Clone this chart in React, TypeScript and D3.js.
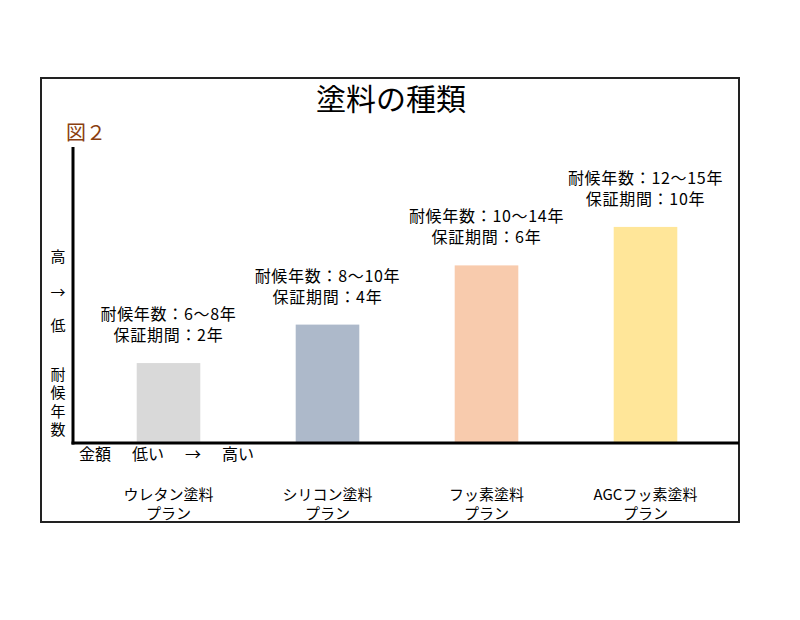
import React from "react";
import * as d3 from "d3";

const categoriesLine1 = ["ウレタン塗料", "シリコン塗料", "フッ素塗料", "AGCフッ素塗料"];
const categoriesLine2 = ["プラン", "プラン", "プラン", "プラン"];
const barValues = [27, 40, 60, 73];
const barColors = ["#d9d9d9", "#adb9ca", "#f8cbad", "#ffe699"];
const durabilityLabels = ["耐候年数：6〜8年", "耐候年数：8〜10年", "耐候年数：10〜14年", "耐候年数：12〜15年"];
const warrantyLabels = ["保証期間：2年", "保証期間：4年", "保証期間：6年", "保証期間：10年"];
const yAxisChars = ["高", "→", "低"];
const yAxisTitleChars = ["耐", "候", "年", "数"];
const xAxisWords = ["金額", "低い", "→", "高い"];
const title = "塗料の種類";
const figLabel = "図２";

const W = 800;
const H = 620;
const FONT = "'Noto Sans CJK JP', 'Noto Sans', sans-serif";

export default function App() {
  const box = { x0: 41, y0: 78, x1: 739, y1: 522 };
  const axisX = 73;
  const baseY = 443;
  const topY = 147;

  const x = d3
    .scaleBand<string>()
    .domain(categoriesLine1)
    .range([89, 725])
    .paddingInner(0.6)
    .paddingOuter(0.3);
  const y = d3.scaleLinear().domain([0, 100]).range([baseY, topY]);

  const xWordPos = [95, 148, 193, 238];

  return (
    <svg
      width={W}
      height={H}
      style={{ position: "absolute", left: 0, top: 0, background: "#fff" }}
      fontFamily={FONT}
    >
      <rect x={0} y={0} width={W} height={H} fill="#fff" />
      <rect
        x={box.x0}
        y={box.y0}
        width={box.x1 - box.x0}
        height={box.y1 - box.y0}
        fill="#fff"
        stroke="#222"
        strokeWidth={2}
      />
      <text x={391} y={97} textAnchor="middle" dominantBaseline="central" fontSize={30} fill="#000">
        {title}
      </text>
      <text x={66} y={131} dominantBaseline="central" fontSize={20} fill="#8a4010">
        {figLabel}
      </text>

      {barValues.map((v, i) => {
        const cat = categoriesLine1[i];
        const bx = x(cat) as number;
        const bw = x.bandwidth();
        const cx = bx + bw / 2;
        const top = y(v);
        return (
          <g key={cat}>
            <rect x={bx} y={top} width={bw} height={baseY - top} fill={barColors[i]} />
            <text x={cx} y={top - 50} textAnchor="middle" dominantBaseline="central" fontSize={16} letterSpacing={0.7} fill="#000">
              {durabilityLabels[i]}
            </text>
            <text x={cx} y={top - 29} textAnchor="middle" dominantBaseline="central" fontSize={16} letterSpacing={0.7} fill="#000">
              {warrantyLabels[i]}
            </text>
            <text x={cx} y={493} textAnchor="middle" dominantBaseline="central" fontSize={15} fill="#000">
              {cat}
            </text>
            <text x={cx} y={512} textAnchor="middle" dominantBaseline="central" fontSize={15} fill="#000">
              {categoriesLine2[i]}
            </text>
          </g>
        );
      })}

      <line x1={axisX} y1={topY} x2={axisX} y2={baseY + 1.5} stroke="#000" strokeWidth={3} />
      <line x1={axisX - 1.5} y1={baseY} x2={box.x1} y2={baseY} stroke="#000" strokeWidth={3} />

      {yAxisChars.map((c, i) => (
        <text key={"ya" + i} x={58} y={[255, 291, 324][i]} textAnchor="middle" dominantBaseline="central" fontSize={15} fill="#000">
          {c}
        </text>
      ))}
      {yAxisTitleChars.map((c, i) => (
        <text key={"yt" + i} x={58} y={373 + i * 18.5} textAnchor="middle" dominantBaseline="central" fontSize={15} fill="#000">
          {c}
        </text>
      ))}
      {xAxisWords.map((w, i) => (
        <text key={"xw" + i} x={xWordPos[i]} y={453} textAnchor="middle" dominantBaseline="central" fontSize={16} fill="#000">
          {w}
        </text>
      ))}
    </svg>
  );
}
